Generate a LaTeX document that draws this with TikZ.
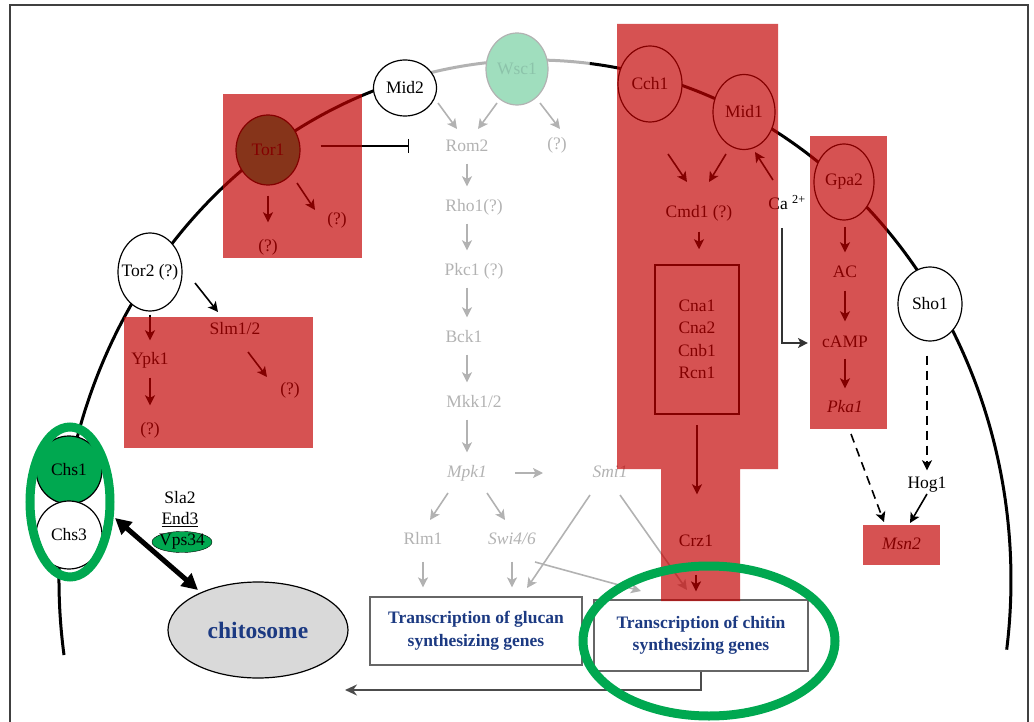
\documentclass[tikz,border=0pt]{standalone}
\usepackage{fontspec}
\setmainfont{Liberation Serif}
\usetikzlibrary{arrows.meta,shapes.geometric,calc}

\definecolor{boxred}{RGB}{195,0,0}
\definecolor{lgrey}{RGB}{178,178,178}
\definecolor{wscfill}{RGB}{160,222,190}
\definecolor{wsctext}{RGB}{140,195,170}
\definecolor{ringgreen}{RGB}{0,168,80}
\definecolor{torgreen}{RGB}{8,162,81}
\definecolor{txtblue}{RGB}{28,58,130}

\newcommand\fs{\fontsize{17.5}{22.5}\selectfont}

\tikzset{
  lbl/.style={inner sep=2pt, text height=12pt, text depth=3pt},
  glbl/.style={lbl, text=lgrey},
  prot/.style={ellipse, draw, line width=1.2pt, fill=white, inner sep=0pt, minimum width=64pt, minimum height=74pt},
  arr/.style={line width=1.6pt, -{Stealth[length=10pt,width=10pt,inset=2.5pt]}},
  garr/.style={arr, draw=lgrey},
  dasharr/.style={arr, dash pattern=on 9pt off 6pt},
  redbox/.style={fill=boxred, fill opacity=0.68},
  genebox/.style={draw=black!60, line width=1.2pt, fill=white, minimum width=212pt, minimum height=68pt, align=center, text=txtblue, font=\fs\bfseries},
}

\begin{document}
\begin{tikzpicture}[x=1pt,y=-1pt,font=\fs]
\useasboundingbox (0,0) rectangle (1034,722);
\draw[black!75,line width=1.5pt] (10,730) -- (10,5) -- (1028,5) -- (1028,730);

% membrane
\draw[line width=3pt] (535,580) ++(171.7:476 and 520) arc[start angle=171.7,end angle=254,x radius=476,y radius=520];
\draw[line width=3pt,lgrey] (535,580) ++(254:476 and 520) arc[start angle=254,end angle=276.6,x radius=476,y radius=520];
\draw[line width=3pt] (535,580) ++(276.6:476 and 520) arc[start angle=276.6,end angle=367.7,x radius=476,y radius=520];

\node[prot, minimum width=63pt, minimum height=56pt] (mid2) at (405,88) {Mid2};
\node[prot, draw=black!30, fill=wscfill, text=wsctext, minimum width=62pt, minimum height=72pt] (wsc1) at (517,69) {Wsc1};
\node[prot, fill=torgreen, minimum height=70pt] (tor1) at (268,150) {Tor1};
\node[prot, inner xsep=-7pt, minimum height=78pt] (tor2) at (150,272) {Tor2 (?)};
\node[prot, minimum height=76pt] (cch1) at (650,84) {Cch1};
\node[prot, minimum width=62pt, minimum height=75pt] (mid1) at (744,112) {Mid1};
\node[prot, minimum width=60pt, minimum height=76pt] (gpa2) at (844,182) {Gpa2};
\node[prot] (sho1) at (930,304) {Sho1};

% cell wall integrity pathway
\node[glbl] (rom2) at (467,147) {Rom2};
\node[glbl] (q5) at (557,145) {(?)};
\node[glbl] (rho1) at (474,207) {Rho1(?)};
\node[glbl] (pkc1) at (474,271) {Pkc1 (?)};
\node[glbl] (bck1) at (464,338) {Bck1};
\node[glbl] (mkk) at (474,403) {Mkk1/2};
\node[glbl] (mpk) at (467,473) {\textit{Mpk1}};
\node[glbl] (smi) at (610,473) {\textit{Smi1}};
\node[glbl] (rlm) at (423,540) {Rlm1};
\node[glbl] (swi) at (512,540) {\textit{Swi4/6}};

\foreach \a/\b in {rom2/rho1,rho1/pkc1,pkc1/bck1,bck1/mkk,mkk/mpk}
  \draw[garr,shorten <=7pt,shorten >=11pt] (rom2.south |- \a.south) -- (rom2.south |- \b.north);
\draw[garr] ([shift={(33,15)}]mid2.center) -- ([shift={(-10,-18)}]rom2.center);
\draw[garr] ([shift={(-20,34)}]wsc1.center) -- ([shift={(11,-18)}]rom2.center);
\draw[garr] ([shift={(23,34)}]wsc1.center) -- ([shift={(3,-16)}]q5.center);
\draw[garr] ([shift={(48,0)}]mpk.center) -- ([shift={(-67,0)}]smi.center);
\draw[garr] ([shift={(-19,20)}]mpk.center) -- ([shift={(7,-20)}]rlm.center);
\draw[garr] ([shift={(20,20)}]mpk.center) -- ([shift={(-7,-20)}]swi.center);

% TOR
\node[lbl] (q1) at (268,247) {(?)};
\node[lbl] (q2) at (337,220) {(?)};
\node[lbl] (ypk) at (150,360) {Ypk1};
\node[lbl] (q3) at (150,430) {(?)};
\node[lbl] (slm) at (235,330) {Slm1/2};
\node[lbl] (q4) at (290,390) {(?)};
\draw[arr,shorten <=10pt,shorten >=15pt] (tor1.south) -- (q1.north);
\draw[arr] ([shift={(29,33)}]tor1.center) -- ([shift={(-22,-10)}]q2.center);
\draw[line width=1.6pt,-{Bar[width=14pt]}] ($(tor1.east |- rom2)+(20,-1)$) -- ($(rom2.west)+(-34,-1)$);
\draw[arr,shorten <=3pt,shorten >=10pt] (ypk.north |- tor2.south) -- (ypk.north);
\draw[arr,shorten <=8pt,shorten >=15pt] (ypk.south) -- (q3.north);
\draw[arr] ([shift={(45,11)}]tor2.center) -- ([shift={(-17,-18)}]slm.center);
\draw[arr] ([shift={(13,22)}]slm.center) -- ([shift={(-23,-13)}]q4.center);

% calcineurin
\node[lbl] (cmd) at (699,213) {Cmd1 (?)};
\node[draw, line width=1.5pt, minimum width=84pt, minimum height=149pt, align=center] (cna) at (697,339.5) {Cna1\\Cna2\\Cnb1\\Rcn1};
\node[lbl] (crz) at (696,542) {Crz1};
\node[lbl] (ca) at (787,205) {Ca \textsuperscript{2+}};
\draw[arr] ([shift={(18,70)}]cch1.center) -- ([shift={(-12,-31)}]cmd.center);
\draw[arr] ([shift={(-18,42)}]mid1.center) -- ([shift={(10,-31)}]cmd.center);
\draw[arr] ([shift={(-14,-25)}]ca.center) -- ([shift={(11,40)}]mid1.center);
\draw[arr,shorten <=9pt,shorten >=15pt] (cmd.south) -- (cmd.south |- cna.north);
\draw[arr,shorten <=10pt,shorten >=38pt] (cna.south) -- (cna.south |- crz.north);

% cAMP
\node[lbl] (ac) at (845,273) {AC};
\node[lbl] (camp) at (845,343) {cAMP};
\node[lbl] (pka) at (845,408) {\textit{Pka1}};
\node[lbl] (hog) at (927,484) {Hog1};
\node[lbl, minimum width=77pt, minimum height=40pt] (msn) at (901.5,545) {\textit{Msn2}};
\draw[arr,black!80,line width=1.4pt,shorten >=12pt] ([shift={(-5,23)}]ca.center) |- (camp.west);
\draw[arr,shorten <=6pt,shorten >=11pt] (ac.north |- gpa2.south) -- (ac.north);
\draw[arr,shorten <=8pt,shorten >=12pt] (ac.south) -- (camp.north);
\draw[arr,shorten <=6pt,shorten >=10pt] (camp.south) -- (pka.north);
\draw[dasharr] ([shift={(6,26)}]pka.center) -- ([shift={(-17.5,-23)}]msn.center);
\draw[dasharr,shorten <=14pt,shorten >=4pt] (hog.north |- sho1.south) -- (hog.north);
\draw[arr] ([shift={(0,10)}]hog.center) -- ([shift={(8.5,-22)}]msn.center);

% genes
\node[genebox] (glucan) at (476,631) {Transcription of glucan\\synthesizing genes};
\node[genebox, minimum width=214pt, minimum height=71pt] (chitin) at (701,635.5) {Transcription of chitin\\synthesizing genes};
\node[ellipse, draw, line width=1.2pt, fill=black!15, minimum width=180pt, minimum height=96pt, text=txtblue, font=\fontsize{23.5}{28}\selectfont\bfseries] (chitosome) at (258,630) {chitosome};
\draw[garr,shorten <=12pt,shorten >=9pt] (rlm.south) -- (rlm.south |- glucan.north);
\draw[garr,shorten <=12pt,shorten >=9pt] (swi.south) -- (swi.south |- glucan.north);
\draw[garr] ([shift={(-20,22)}]smi.center) -- ([shift={(51,-43)}]glucan.center);
\draw[garr] ([shift={(10,22)}]smi.center) -- ([shift={(-14,-45.5)}]chitin.center);
\draw[garr] ([shift={(23,22)}]swi.center) -- ([shift={(-60,-44.5)}]chitin.center);
\draw[arr,shorten <=23pt,shorten >=8pt] (crz.south) -- (crz.south |- chitin.north);
\draw[line width=2pt,black!70,-{Stealth[length=12pt,width=11pt]}] (chitin.south) |- ([shift={(87,60)}]chitosome.center);

% red boxes
\fill[redbox] (223,94) rectangle (362,258);
\fill[redbox] (124,317) rectangle (313,448);
\fill[redbox] (617,24) -- (778,24) -- (778,469) -- (740,469) -- (740,601) -- (661,601) -- (661,469) -- (617,469) -- cycle;
\fill[redbox] (810,136) rectangle (887,429);
\fill[redbox] (msn.north west) rectangle (msn.south east);

% chitin synthases
\node[prot, fill=ringgreen, minimum width=66pt, minimum height=68pt] (chs1) at (69,470) {Chs1};
\node[prot, minimum width=66pt, minimum height=68pt] (chs3) at (69,535) {Chs3};
\draw[ringgreen, line width=9pt] (70,502) ellipse[x radius=40, y radius=75];
\node[lbl] (sla) at (180,499) {Sla2};
\node[lbl] (end3) at (180,520) {\underline{End3}};
\node[ellipse, draw, fill=ringgreen, inner xsep=-4pt, inner ysep=-2pt, minimum width=60pt, minimum height=21pt] (vps) at (182,542) {Vps34};
\draw[line width=5pt,{Triangle[length=16pt,width=16pt]}-{Triangle[length=16pt,width=16pt]}] ([shift={(46,-17)}]chs3.center) -- ([shift={(-60,-40)}]chitosome.center);

\draw[ringgreen, line width=9pt] (709,641) ellipse[x radius=126, y radius=75];
\end{tikzpicture}
\end{document}
